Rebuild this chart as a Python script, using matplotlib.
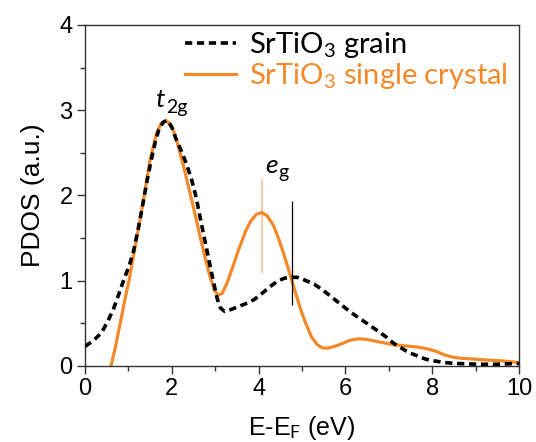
import matplotlib
matplotlib.use("Agg")
import matplotlib.pyplot as plt
from matplotlib.ticker import MultipleLocator

# PDOS (E - E_F in eV, PDOS in a.u.)
crystal_e = [0.60, 0.70, 0.81, 0.92, 1.02, 1.14, 1.27, 1.39, 1.50, 1.65, 1.75, 1.86,
             1.97, 2.08, 2.19, 2.30, 2.42, 2.54, 2.65, 2.77, 2.88, 2.98, 3.07, 3.16,
             3.27, 3.41, 3.55, 3.70, 3.82, 3.95, 4.07, 4.20, 4.34, 4.47, 4.60, 4.72,
             4.85, 4.97, 5.10, 5.22, 5.35, 5.48, 5.60, 5.75, 5.91, 6.10, 6.31, 6.50,
             6.70, 6.90, 7.10, 7.30, 7.49, 7.70, 7.89, 8.10, 8.28, 8.50, 8.68, 9.00,
             9.23, 9.60, 10.0]
crystal_pdos = [0.0, 0.22, 0.50, 0.78, 1.02, 1.36, 1.72, 2.08, 2.42, 2.73, 2.84, 2.88,
                2.84, 2.70, 2.50, 2.28, 2.03, 1.77, 1.52, 1.27, 1.05, 0.89, 0.83, 0.85,
                0.97, 1.17, 1.38, 1.58, 1.70, 1.78, 1.80, 1.76, 1.65, 1.48, 1.28, 1.08,
                0.86, 0.66, 0.48, 0.34, 0.25, 0.21, 0.21, 0.23, 0.26, 0.30, 0.32, 0.31,
                0.29, 0.27, 0.25, 0.24, 0.23, 0.22, 0.20, 0.17, 0.13, 0.10, 0.09, 0.08,
                0.07, 0.06, 0.04]

grain_e = [0.0, 0.20, 0.38, 0.52, 0.65, 0.77, 0.90, 1.02, 1.12, 1.23, 1.34, 1.44,
           1.54, 1.62, 1.70, 1.80, 1.90, 2.00, 2.10, 2.22, 2.33, 2.46, 2.56, 2.65,
           2.75, 2.84, 2.95, 3.04, 3.12, 3.22, 3.35, 3.55, 3.75, 3.90, 4.10, 4.26,
           4.45, 4.60, 4.75, 4.89, 5.05, 5.28, 5.48, 5.68, 5.90, 6.15, 6.35, 6.55,
           6.75, 6.94, 7.10, 7.29, 7.45, 7.65, 7.85, 8.04, 8.30, 8.52, 9.07, 9.50,
           10.0]
grain_pdos = [0.23, 0.30, 0.39, 0.52, 0.66, 0.83, 1.02, 1.18, 1.35, 1.62, 1.92, 2.20,
              2.45, 2.63, 2.77, 2.86, 2.88, 2.80, 2.66, 2.52, 2.38, 2.18, 1.98, 1.75,
              1.50, 1.28, 1.01, 0.80, 0.68, 0.64, 0.66, 0.70, 0.74, 0.78, 0.86, 0.93,
              1.00, 1.03, 1.04, 1.04, 1.01, 0.96, 0.89, 0.81, 0.72, 0.62, 0.55, 0.48,
              0.41, 0.34, 0.27, 0.21, 0.16, 0.12, 0.08, 0.06, 0.04, 0.03, 0.02, 0.02,
              0.03]

# e_g peak markers: (x, y_low, y_high)
eg_crystal = (4.07, 1.09, 2.19)
eg_grain = (4.78, 0.72, 1.93)

orange = "#f5892a"

plt.rcParams["font.family"] = ["Liberation Sans", "DejaVu Sans"]
plt.rcParams["mathtext.fontset"] = "custom"
plt.rcParams["mathtext.rm"] = "Lato"
plt.rcParams["mathtext.it"] = "Lato:italic"

fig = plt.figure(figsize=(5.36, 4.42), dpi=100)
ax = fig.add_axes([0.1586, 0.172, 0.8097, 0.7715])

ax.plot(grain_e, grain_pdos, color="black", lw=2.6, ls=(0, (2.0, 1.3)),
        label="SrTiO$_3$ grain", zorder=3)
ax.plot(crystal_e, crystal_pdos, color=orange, lw=2.3, label="SrTiO$_3$ single crystal",
        zorder=2)

ax.vlines(eg_crystal[0], eg_crystal[1], eg_crystal[2], color="#f9c39a", lw=1.2, zorder=1)
ax.vlines(eg_grain[0], eg_grain[1], eg_grain[2], color="black", lw=0.9, zorder=4)

ax.text(1.62, 3.04, "$t$", fontsize=19, family="Lato")
ax.text(1.86, 2.97, "2g", fontsize=14, family="Lato")
ax.text(4.15, 2.26, "$e$", fontsize=19, family="Lato")
ax.text(4.46, 2.20, "g", fontsize=14, family="Lato")

leg = ax.legend(loc="upper left", bbox_to_anchor=(0.2295, 0.985), frameon=False,
                prop={"family": "Lato", "size": 21}, handlelength=1.75,
                handletextpad=0.45, labelspacing=0.03, borderpad=0, borderaxespad=0)
leg.get_texts()[1].set_color(orange)

ax.set_xlim(0, 10)
ax.set_ylim(0, 4)
ax.xaxis.set_major_locator(MultipleLocator(2))
ax.xaxis.set_minor_locator(MultipleLocator(1))
ax.yaxis.set_major_locator(MultipleLocator(1))
ax.yaxis.set_minor_locator(MultipleLocator(0.5))
ax.tick_params(which="major", direction="out", length=6, width=1, labelsize=17,
               color="#333333", pad=3)
ax.tick_params(which="minor", direction="out", length=3.5, width=1, color="#333333")
for s in ax.spines.values():
    s.set_color("#333333")
    s.set_linewidth(1)

ax.set_xlabel("E-E$_\\mathrm{F}$ (eV)", fontsize=18, labelpad=10)
ax.set_ylabel("PDOS (a.u.)", fontsize=19, labelpad=10)

fig.savefig("out.png", dpi=100)
